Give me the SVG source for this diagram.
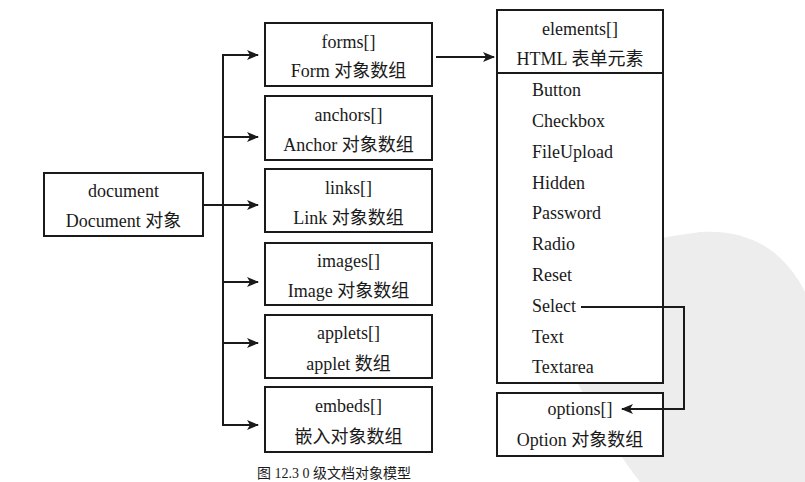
<svg xmlns="http://www.w3.org/2000/svg" width="805" height="482" viewBox="0 0 805 482">
<style>
.box{fill:#fff;stroke:#1a1a1a;stroke-width:2}
.t{font-family:"Liberation Serif","Noto Sans CJK SC",serif;font-size:18px;fill:#1a1a1a}
.c{text-anchor:middle}
.ln{fill:none;stroke:#1a1a1a;stroke-width:2}
</style>
<defs>
<marker id="ah" markerWidth="12" markerHeight="10" refX="11" refY="5" orient="auto" markerUnits="userSpaceOnUse">
<path d="M0,0 L12,5 L0,10 L3,5 Z" fill="#1a1a1a"/>
</marker>
</defs>
<rect width="805" height="482" fill="#fff"/>
<path d="M550 290 C565 255 640 240 700 232 C760 228 790 262 805 292 L805 482 L640 482 C600 430 552 350 550 290 Z" fill="#ededed"/>
<g id="document"><rect class="box" x="44" y="173" width="159" height="63"/>
<text class="t c" x="123.5" y="197">document</text><text class="t c" x="123.5" y="227">Document 对象</text></g>
<g id="forms"><rect class="box" x="265" y="23" width="167" height="63"/>
<text class="t c" x="348.5" y="48">forms[]</text><text class="t c" x="348.5" y="77">Form 对象数组</text></g>
<g id="anchors"><rect class="box" x="265" y="96" width="167" height="64"/>
<text class="t c" x="348.5" y="121">anchors[]</text><text class="t c" x="348.5" y="151">Anchor 对象数组</text></g>
<g id="links"><rect class="box" x="265" y="169" width="167" height="63"/>
<text class="t c" x="348.5" y="194">links[]</text><text class="t c" x="348.5" y="224">Link 对象数组</text></g>
<g id="images"><rect class="box" x="265" y="243" width="167" height="62"/>
<text class="t c" x="348.5" y="267">images[]</text><text class="t c" x="348.5" y="297">Image 对象数组</text></g>
<g id="applets"><rect class="box" x="265" y="315" width="167" height="63"/>
<text class="t c" x="348.5" y="339">applets[]</text><text class="t c" x="348.5" y="370">applet 数组</text></g>
<g id="embeds"><rect class="box" x="265" y="387" width="167" height="65"/>
<text class="t c" x="348.5" y="412">embeds[]</text><text class="t c" x="348.5" y="443">嵌入对象数组</text></g>
<g id="elements"><rect class="box" x="497" y="10" width="166" height="373"/>
<line class="ln" x1="497" y1="73" x2="663" y2="73"/>
<text class="t c" x="580" y="35">elements[]</text><text class="t c" x="580" y="65">HTML 表单元素</text>
<text class="t" x="532" y="96">Button</text>
<text class="t" x="532" y="127">Checkbox</text>
<text class="t" x="532" y="158">FileUpload</text>
<text class="t" x="532" y="189">Hidden</text>
<text class="t" x="532" y="219">Password</text>
<text class="t" x="532" y="250">Radio</text>
<text class="t" x="532" y="281">Reset</text>
<text class="t" x="532" y="312">Select</text>
<text class="t" x="532" y="343">Text</text>
<text class="t" x="532" y="373">Textarea</text></g>
<g id="options"><rect class="box" x="497" y="393" width="166" height="63"/>
<text class="t c" x="580" y="415">options[]</text><text class="t c" x="580" y="446">Option 对象数组</text></g>
<g id="connectors">
<line class="ln" x1="223" y1="55" x2="223" y2="425"/>
<line class="ln" x1="203" y1="205" x2="258" y2="205" marker-end="url(#ah)"/>
<line class="ln" x1="222" y1="55" x2="258" y2="55" marker-end="url(#ah)"/>
<line class="ln" x1="222" y1="137" x2="258" y2="137" marker-end="url(#ah)"/>
<line class="ln" x1="222" y1="282" x2="258" y2="282" marker-end="url(#ah)"/>
<line class="ln" x1="222" y1="343" x2="258" y2="343" marker-end="url(#ah)"/>
<line class="ln" x1="222" y1="425" x2="258" y2="425" marker-end="url(#ah)"/>
<line class="ln" x1="436" y1="57" x2="494" y2="57" marker-end="url(#ah)"/>
<polyline class="ln" points="581,307 684,307 684,409 622,409" marker-end="url(#ah)"/>
</g>
<text class="t" x="257" y="478" style="font-size:14px">图 12.3  0 级文档对象模型</text>
</svg>
